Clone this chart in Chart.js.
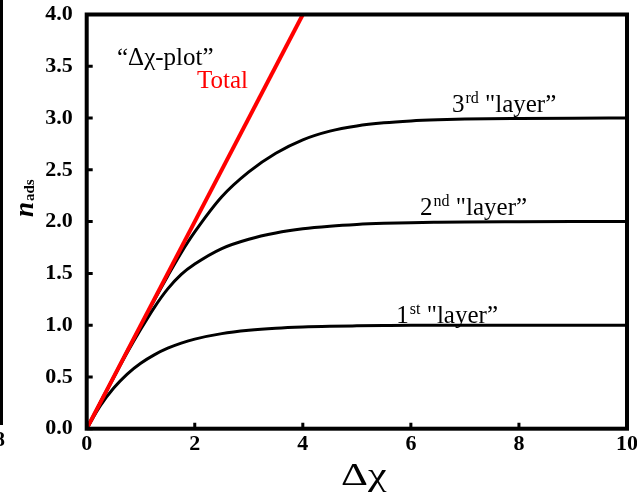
<!DOCTYPE html>
<html>
<head>
<meta charset="utf-8">
<script src="https://cdn.jsdelivr.net/npm/chart.js@4"></script>
<style>
  html, body { margin: 0; padding: 0; background: #fff; }
  #wrap { width: 637px; height: 497px; }
</style>
</head>
<body>
<div id="wrap"><canvas id="deltaChiChart" width="637" height="497"></canvas></div>
<script>
// Δχ values shared by the three layer curves
const deltaChi = [0, 0.25, 0.5, 0.75, 1, 1.25, 1.5, 1.75, 2, 2.5, 3, 3.5, 4, 4.5, 5, 5.5, 6, 6.5, 7, 8, 9, 10]
const layer1 = [0, 0.221, 0.393, 0.528, 0.632, 0.713, 0.777, 0.826, 0.865, 0.918, 0.950, 0.970, 0.982, 0.989, 0.993, 0.996, 0.998, 0.998, 0.999, 1.0, 1.0, 1.0]
const layer2 = [0, 0.25, 0.495, 0.735, 0.96, 1.17, 1.35, 1.49, 1.59, 1.74, 1.83, 1.89, 1.93, 1.955, 1.972, 1.983, 1.99, 1.994, 1.997, 1.999, 2.0, 2.0]
const layer3 = [0, 0.25, 0.5, 0.75, 0.995, 1.24, 1.475, 1.70, 1.90, 2.24, 2.48, 2.66, 2.79, 2.874, 2.924, 2.954, 2.972, 2.983, 2.990, 2.996, 2.999, 3.0]
// total adsorption grows linearly
const totalChi = [0, 4]
const totalN = [0, 4]

const xTicks = [0, 2, 4, 6, 8, 10]
const yTicks = [0, 0.5, 1, 1.5, 2, 2.5, 3, 3.5, 4]

const serif = '"Liberation Serif", "DejaVu Serif", serif'

// in-plot labels, anchored in data units
const notes = [
    { text: '\u201c\u0394\u03c7-plot\u201d', x: 0.56, y: 3.51, color: '#000' },
    { text: 'Total', x: 2.04, y: 3.29, color: '#ff0000' },
    { text: '3', sup: 'rd', rest: ' "layer\u201d', x: 6.76, y: 3.06, color: '#000' },
    { text: '2', sup: 'nd', rest: ' "layer\u201d', x: 6.17, y: 2.06, color: '#000' },
    { text: '1', sup: 'st', rest: ' "layer\u201d', x: 5.73, y: 1.02, color: '#000' }
]

function toPoints(xs, ys){
    return xs.map((x, i) => ({ x: x, y: ys[i] }))
}

function curve(label, xs, ys, color, width){
    return {
        label: label,
        data: toPoints(xs, ys),
        borderColor: color,
        borderWidth: width,
        pointRadius: 0,
        fill: false,
        cubicInterpolationMode: 'monotone'
    }
}

// keep the tick labels from pushing the plot area around
function noOverhang(scale){
    scale.paddingTop = 0
    scale.paddingBottom = 0
    scale.paddingLeft = 0
    scale.paddingRight = 0
}

const framePlugin = {
    id: 'frame',
    afterDatasetsDraw(chart){
        const ctx = chart.ctx
        const area = chart.chartArea
        const xs = chart.scales.x
        const ys = chart.scales.y
        ctx.save()

        // inward tick marks
        ctx.strokeStyle = '#000'
        ctx.lineWidth = 3
        ctx.beginPath()
        yTicks.forEach(v => {
            const py = ys.getPixelForValue(v)
            ctx.moveTo(area.left, py)
            ctx.lineTo(area.left + 6, py)
        })
        xTicks.forEach(v => {
            const px = xs.getPixelForValue(v)
            ctx.moveTo(px, area.bottom)
            ctx.lineTo(px, area.bottom - 6)
        })
        ctx.stroke()

        // box around the plot
        ctx.lineWidth = 4
        ctx.strokeRect(area.left, area.top, area.right - area.left, area.bottom - area.top)

        // annotations
        ctx.textBaseline = 'alphabetic'
        ctx.textAlign = 'left'
        notes.forEach(n => {
            let px = xs.getPixelForValue(n.x)
            const py = ys.getPixelForValue(n.y)
            ctx.fillStyle = n.color
            ctx.font = '25px ' + serif
            ctx.fillText(n.text, px, py)
            if (n.sup){
                px += ctx.measureText(n.text).width + 1
                ctx.font = '16px ' + serif
                ctx.fillText(n.sup, px, py - 9)
                px += ctx.measureText(n.sup).width
                ctx.font = '25px ' + serif
                ctx.fillText(n.rest, px, py)
            }
        })

        // x axis title, drawn a little wide
        ctx.save()
        ctx.fillStyle = '#000'
        ctx.textAlign = 'center'
        ctx.translate((area.left + area.right) / 2 + 7, 485)
        ctx.scale(1.35, 1)
        ctx.font = '31px ' + serif
        ctx.fillText('\u0394\u03c7', 0, 0)
        ctx.restore()

        // y axis title, n with subscript
        ctx.fillStyle = '#000'
        ctx.translate(33, 217)
        ctx.rotate(-Math.PI / 2)
        ctx.textAlign = 'left'
        ctx.font = 'italic bold 27px ' + serif
        ctx.fillText('n', 0, 0)
        const nw = ctx.measureText('n').width
        ctx.font = 'bold 15px ' + serif
        ctx.fillText('ads', nw + 1, 1)
        ctx.restore()

        // edge of the neighbouring panel
        ctx.save()
        ctx.fillStyle = '#000'
        ctx.fillRect(0, 0, 3, 425)
        ctx.font = 'bold 22px ' + serif
        ctx.textAlign = 'right'
        ctx.textBaseline = 'middle'
        ctx.fillText('8', 5, 440)
        ctx.restore()
    }
}

const chart = new Chart(document.getElementById('deltaChiChart').getContext('2d'), {
    type: 'line',
    data: {
        datasets: [
            curve('Total', totalChi, totalN, '#ff0000', 4),
            curve('3rd layer', deltaChi, layer3, '#000', 3),
            curve('2nd layer', deltaChi, layer2, '#000', 3),
            curve('1st layer', deltaChi, layer1, '#000', 3)
        ]
    },
    options: {
        responsive: false,
        animation: false,
        layout: { padding: { left: 0, top: 14.5, right: 10, bottom: 0 } },
        plugins: {
            legend: { display: false },
            tooltip: { enabled: false }
        },
        scales: {
            x: {
                type: 'linear',
                min: 0,
                max: 10,
                grid: { display: false, drawTicks: false },
                border: { display: false },
                afterFit: scale => { scale.height = 68.3; noOverhang(scale) },
                afterBuildTicks: scale => { scale.ticks = xTicks.map(v => ({ value: v })) },
                ticks: {
                    color: '#000',
                    padding: 2,
                    maxRotation: 0,
                    font: { family: serif, weight: 'bold', size: 22 },
                    callback: v => String(v)
                }
            },
            y: {
                type: 'linear',
                min: 0,
                max: 4,
                grid: { display: false, drawTicks: false },
                border: { display: false },
                afterFit: scale => { scale.width = 86.7; noOverhang(scale) },
                afterBuildTicks: scale => { scale.ticks = yTicks.map(v => ({ value: v })) },
                ticks: {
                    color: '#000',
                    padding: 14,
                    font: { family: serif, weight: 'bold', size: 22 },
                    callback: v => Number(v).toFixed(1)
                }
            }
        }
    },
    plugins: [framePlugin]
})
</script>
</body>
</html>
